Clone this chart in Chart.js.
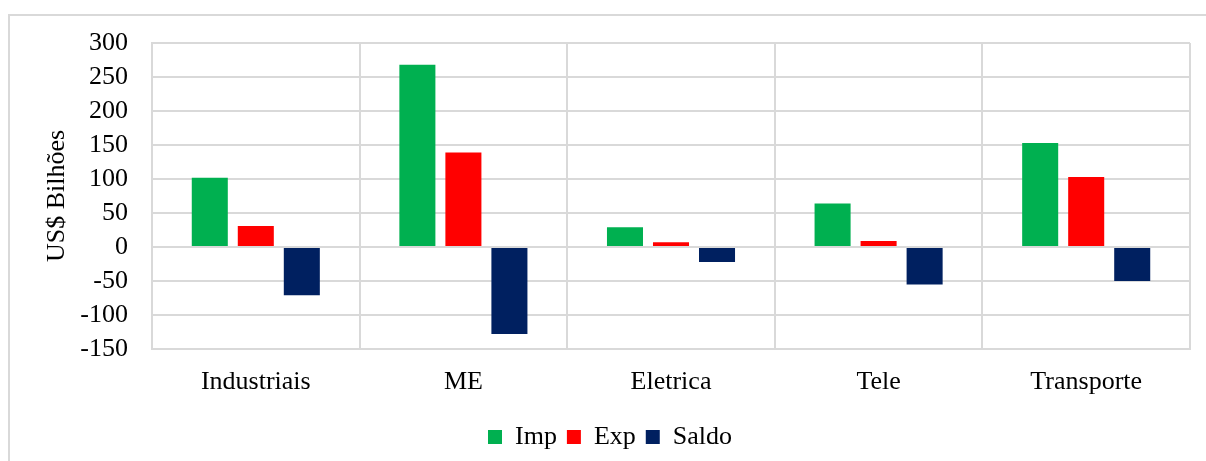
<!DOCTYPE html>
<html>
<head>
<meta charset="utf-8">
<script src="https://cdn.jsdelivr.net/npm/chart.js@4/dist/chart.umd.min.js"></script>
<style>
  html, body { margin: 0; padding: 0; background: #fff; }
  #wrap { position: relative; width: 1206px; height: 461px; overflow: hidden; }
  #frame { position: absolute; left: 8px; top: 14px; width: 1300px; height: 500px;
           border-top: 2px solid #d9d9d9; border-left: 2px solid #d9d9d9; box-sizing: border-box; }
  #grafico { position: absolute; left: 0; top: 0; }
</style>
</head>
<body>
<div id="wrap">
  <div id="frame"></div>
  <canvas id="grafico" width="1206" height="461"></canvas>
</div>
<script>
const setores = ['Industriais', 'ME', 'Eletrica', 'Tele', 'Transporte'];
const imp = [102, 268, 29, 64, 153];
const exp = [31, 139, 7, 9, 103];
const saldo = [-71, -128, -22, -55, -50];

const fonte = { family: "'Liberation Serif', 'Times New Roman', serif", size: 26 };
const cinza = '#d9d9d9';

new Chart(
    document.getElementById('grafico'),
    {
        type: 'bar',
        data: {
            labels: setores,
            datasets: [
                { label: 'Imp', data: imp, backgroundColor: '#00B050' },
                { label: 'Exp', data: exp, backgroundColor: '#FF0000' },
                { label: 'Saldo', data: saldo, backgroundColor: '#002060' },
            ]
        },
        options: {
            responsive: false,
            animation: false,
            categoryPercentage: 0.665,
            barPercentage: 0.783,
            layout: {
                padding: { left: 30, right: 16, top: 43, bottom: 1 }
            },
            plugins: {
                legend: {
                    position: 'bottom',
                    labels: {
                        boxWidth: 14,
                        boxHeight: 14,
                        padding: 10,
                        color: '#000',
                        font: fonte,
                    },
                },
                tooltip: { enabled: false },
            },
            scales: {
                y: {
                    min: -150,
                    max: 300,
                    border: { color: cinza, width: 2 },
                    grid: {
                        color: cinza,
                        lineWidth: 2,
                        drawTicks: false,
                    },
                    ticks: {
                        stepSize: 50,
                        autoSkip: false,
                        padding: 24,
                        color: '#000',
                        font: fonte,
                    },
                    title: {
                        display: true,
                        text: 'US$ Bilhões',
                        color: '#000',
                        font: fonte,
                        padding: { top: 12, bottom: 0 },
                    },
                    afterFit: function (scale) {
                        scale.width = 122;
                    }
                },
                x: {
                    border: { color: cinza, width: 2 },
                    grid: {
                        color: cinza,
                        lineWidth: 2,
                        drawTicks: false,
                        offset: true,
                    },
                    ticks: {
                        padding: 18,
                        color: '#000',
                        font: fonte,
                    },
                    afterFit: function (scale) {
                        scale.height = 65;
                    }
                }
            }
        }
    }
);
</script>
</body>
</html>
